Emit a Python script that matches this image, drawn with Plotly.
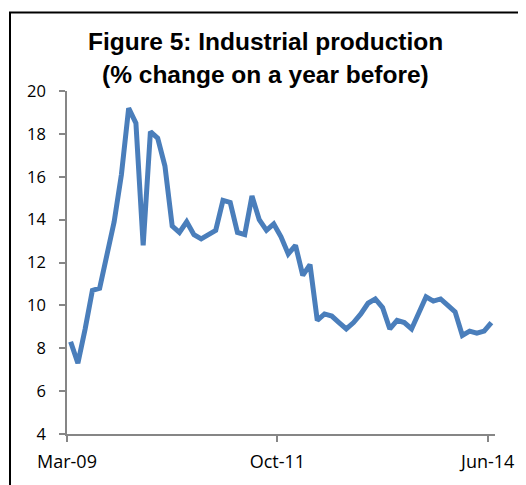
import plotly.graph_objects as go

months = ["Mar-09", "Apr-09", "May-09", "Jun-09", "Jul-09", "Aug-09", "Sep-09", "Oct-09", "Nov-09", "Dec-09",
          "Feb-10", "Mar-10", "Apr-10", "May-10", "Jun-10", "Jul-10", "Aug-10", "Sep-10", "Oct-10", "Nov-10", "Dec-10",
          "Feb-11", "Mar-11", "Apr-11", "May-11", "Jun-11", "Jul-11", "Aug-11", "Sep-11", "Oct-11", "Nov-11", "Dec-11",
          "Feb-12", "Mar-12", "Apr-12", "May-12", "Jun-12", "Jul-12", "Aug-12", "Sep-12", "Oct-12", "Nov-12", "Dec-12",
          "Feb-13", "Mar-13", "Apr-13", "May-13", "Jun-13", "Jul-13", "Aug-13", "Sep-13", "Oct-13", "Nov-13", "Dec-13",
          "Feb-14", "Mar-14", "Apr-14", "May-14", "Jun-14"]
growth = [8.3, 7.3, 8.9, 10.7, 10.8, 12.3, 13.9, 16.1, 19.2, 18.5,
          12.8, 18.1, 17.8, 16.5, 13.7, 13.4, 13.9, 13.3, 13.1, 13.3, 13.5,
          14.9, 14.8, 13.4, 13.3, 15.1, 14.0, 13.5, 13.8, 13.2, 12.4, 12.8,
          11.4, 11.9, 9.3, 9.6, 9.5, 9.2, 8.9, 9.2, 9.6, 10.1, 10.3,
          9.9, 8.9, 9.3, 9.2, 8.9, 9.7, 10.4, 10.2, 10.3, 10.0, 9.7,
          8.6, 8.8, 8.7, 8.8, 9.2]
tick_labels = ["Mar-09", "Oct-11", "Jun-14"]
y_ticks = [4, 6, 8, 10, 12, 14, 16, 18, 20]

idx = list(range(len(months)))
tick_pos = [months.index(t) - 0.5 for t in tick_labels]

# page is offset by the 8px body margin
OFF = 8
W, H = 526 - OFF, 485 - OFF
L, R, T, B = 67, 495, 91, 436  # plot area in page pixels
PW, PH = R - L, B - T

fig = go.Figure()
fig.add_trace(go.Scatter(x=idx, y=growth, mode="lines",
                         line=dict(color="#4A7EBB", width=5),
                         hoverinfo="skip", showlegend=False))

axis_color = "#868686"
fig.update_layout(
    width=W, height=H,
    margin=dict(l=L - OFF, r=526 - R, t=T - OFF, b=485 - B),
    paper_bgcolor="white", plot_bgcolor="white",
    font=dict(family="Open Sans", size=16, color="black"),
    xaxis=dict(range=[-0.5, len(months) - 0.5], tickmode="array", tickvals=tick_pos, ticktext=tick_labels,
               showgrid=False, zeroline=False, showline=True, linecolor=axis_color, linewidth=1.5,
               ticks="outside", ticklen=6, tickwidth=1.5, tickcolor=axis_color,
               tickfont=dict(size=18), ticklabelstandoff=5),
    yaxis=dict(range=[4, 20], tickmode="array", tickvals=y_ticks,
               showgrid=False, zeroline=False, showline=True, linecolor=axis_color, linewidth=1.5,
               ticks="outside", ticklen=6, tickwidth=1.5, tickcolor=axis_color,
               tickfont=dict(size=16.5), ticklabelstandoff=10),
)

fig.add_shape(type="rect", xref="paper", yref="paper",
              x0=(10 - L) / PW, x1=(560 - L) / PW,
              y0=(B - 520) / PH, y1=(B - 12) / PH,
              line=dict(color="black", width=2), fillcolor="rgba(0,0,0,0)", layer="below")

title_font = dict(family="Liberation Sans", size=24.5, color="black")
fig.add_annotation(text="<b>Figure 5: Industrial production</b>", xref="paper", yref="paper",
                   x=(265 - L) / PW, y=(B - 41) / PH, xanchor="center", yanchor="middle",
                   showarrow=False, font=title_font)
fig.add_annotation(text="<b>(% change on a year before)</b>", xref="paper", yref="paper",
                   x=(265 - L) / PW, y=(B - 74) / PH, xanchor="center", yanchor="middle",
                   showarrow=False, font=title_font)

fig.write_html("out.html")
